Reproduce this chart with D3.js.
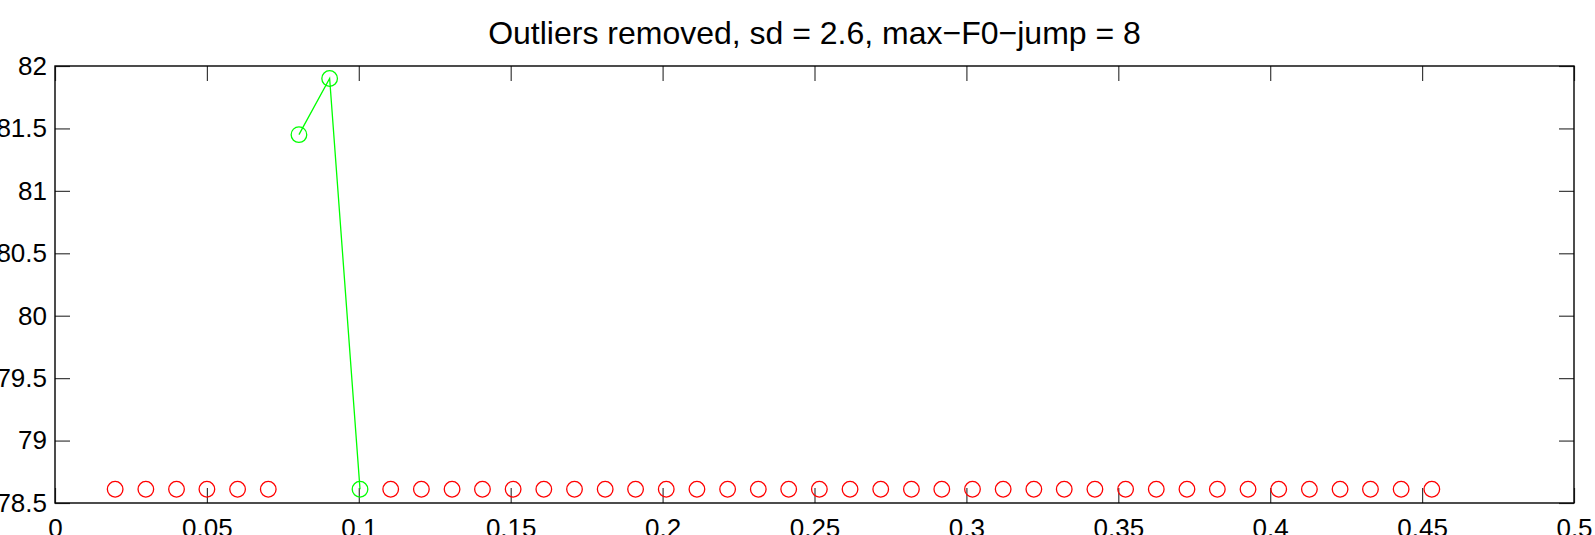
<!DOCTYPE html>
<html>
<head>
<meta charset="utf-8">
<script src="https://cdn.jsdelivr.net/npm/d3@7"></script>
<style>
  body { margin: 0; background: #fff; }
  text { font-family: "Liberation Sans", Arial, Helvetica, sans-serif; }
</style>
</head>
<body>
<script>
// chart data (time in s, F0 values)
const titleText = "Outliers removed, sd = 2.6, max\u2212F0\u2212jump = 8";
const xTicks = [0, 0.05, 0.1, 0.15, 0.2, 0.25, 0.3, 0.35, 0.4, 0.45, 0.5];
const xTickLabels = ["0", "0.05", "0.1", "0.15", "0.2", "0.25", "0.3", "0.35", "0.4", "0.45", "0.5"];
const yTicks = [78.5, 79, 79.5, 80, 80.5, 81, 81.5, 82];
const yTickLabels = ["78.5", "79", "79.5", "80", "80.5", "81", "81.5", "82"];

// points removed as outliers (red)
const redTime = [0.0198, 0.0299, 0.0400, 0.0500, 0.0601, 0.0702,
    0.1105, 0.1206, 0.1307, 0.1407, 0.1508, 0.1609, 0.1710, 0.1811, 0.1911, 0.2012,
    0.2113, 0.2214, 0.2315, 0.2415, 0.2516, 0.2617, 0.2718, 0.2819, 0.2919, 0.3020,
    0.3121, 0.3222, 0.3322, 0.3423, 0.3524, 0.3625, 0.3726, 0.3826, 0.3927, 0.4028,
    0.4129, 0.4230, 0.4330, 0.4431, 0.4532];
const redF0 = [78.61, 78.61, 78.61, 78.61, 78.61, 78.61,
    78.61, 78.61, 78.61, 78.61, 78.61, 78.61, 78.61, 78.61, 78.61, 78.61,
    78.61, 78.61, 78.61, 78.61, 78.61, 78.61, 78.61, 78.61, 78.61, 78.61,
    78.61, 78.61, 78.61, 78.61, 78.61, 78.61, 78.61, 78.61, 78.61, 78.61,
    78.61, 78.61, 78.61, 78.61, 78.61];

// kept points (green)
const greenTime = [0.0803, 0.0904, 0.1004];
const greenF0 = [81.45, 81.90, 78.61];

const width = 1595;
const height = 535;
const margin = { top: 66, right: 21, bottom: 32, left: 55 };
const tickLen = 15;

const svg = d3.select("body").append("svg")
    .attr("width", width)
    .attr("height", height);

const x = d3.scaleLinear().domain([0, 0.5]).range([margin.left, width - margin.right]);
const y = d3.scaleLinear().domain([78.5, 82]).range([height - margin.bottom, margin.top]);

// title
svg.append("text")
    .attr("x", (x.range()[0] + x.range()[1]) / 2)
    .attr("y", 44)
    .attr("text-anchor", "middle")
    .style("font-size", "32px")
    .attr("fill", "#000")
    .text(titleText);

// axes with inward ticks on all four sides
function styleAxis(g) {
    g.select(".domain").remove();
    g.selectAll(".tick line").attr("stroke", "#3a3a3a").attr("stroke-width", 1.2);
    g.selectAll(".tick text").attr("fill", "#000").style("font-size", "26px");
}

svg.append("g")
    .attr("transform", `translate(0,${y(78.5)})`)
    .call(d3.axisBottom(x).tickValues(xTicks).tickFormat((d, i) => xTickLabels[i])
        .tickSizeInner(-tickLen).tickSizeOuter(0).tickPadding(0))
    .call(styleAxis)
    .call(g => g.selectAll(".tick text").attr("y", 34).attr("dy", 0));

svg.append("g")
    .attr("transform", `translate(0,${y(82)})`)
    .call(d3.axisTop(x).tickValues(xTicks).tickFormat("")
        .tickSizeInner(-tickLen).tickSizeOuter(0))
    .call(styleAxis);

svg.append("g")
    .attr("transform", `translate(${x(0)},0)`)
    .call(d3.axisLeft(y).tickValues(yTicks).tickFormat((d, i) => yTickLabels[i])
        .tickSizeInner(-tickLen).tickSizeOuter(0).tickPadding(8))
    .call(styleAxis);

svg.append("g")
    .attr("transform", `translate(${x(0.5)},0)`)
    .call(d3.axisRight(y).tickValues(yTicks).tickFormat("")
        .tickSizeInner(-tickLen).tickSizeOuter(0))
    .call(styleAxis);

// frame
svg.append("rect")
    .attr("x", x(0))
    .attr("y", y(82))
    .attr("width", x(0.5) - x(0))
    .attr("height", y(78.5) - y(82))
    .attr("fill", "none")
    .attr("stroke", "#000")
    .attr("stroke-width", 1.4);

// red outlier markers
const redData = redTime.map((t, i) => ({ t: t, f: redF0[i] }));
svg.append("g").selectAll("circle")
    .data(redData)
    .join("circle")
    .attr("cx", d => x(d.t))
    .attr("cy", d => y(d.f))
    .attr("r", 7.8)
    .attr("fill", "none")
    .attr("stroke", "#ff0000")
    .attr("stroke-width", 1.3);

// green kept line + markers
const greenData = greenTime.map((t, i) => ({ t: t, f: greenF0[i] }));
svg.append("path")
    .datum(greenData)
    .attr("fill", "none")
    .attr("stroke", "#00ff00")
    .attr("stroke-width", 1.3)
    .attr("d", d3.line().x(d => x(d.t)).y(d => y(d.f)));

svg.append("g").selectAll("circle")
    .data(greenData)
    .join("circle")
    .attr("cx", d => x(d.t))
    .attr("cy", d => y(d.f))
    .attr("r", 7.8)
    .attr("fill", "none")
    .attr("stroke", "#00ff00")
    .attr("stroke-width", 1.3);
</script>
</body>
</html>
